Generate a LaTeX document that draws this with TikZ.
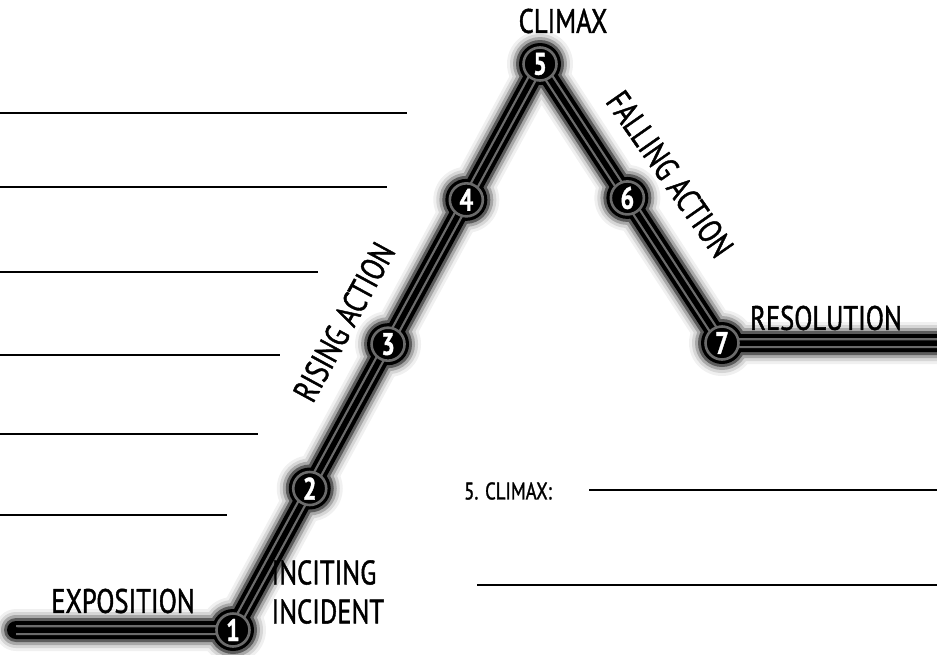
\documentclass[tikz,border=0pt]{standalone}
\usepackage{fontspec}
\setmainfont{PT Sans}[FakeBold=1.2,FakeStretch=0.78]
\usetikzlibrary{positioning,calc}

\begin{document}
\begin{tikzpicture}[x=1pt,y=-1pt,
  every node/.style={font=\fontsize{34}{39}\selectfont},
  track/.style={line cap=round,line join=round},
  stripe/.style={line join=round},
  stop/.style={circle,fill=black,draw=black!58,line width=2.6pt,minimum size=33pt,
               inner sep=0pt,text=white,font=\fontsize{31}{31}\selectfont\bfseries},
  tag/.style={font=\fontsize{34}{39}\selectfont},
  blank/.style={line width=1.3pt}
]
\useasboundingbox (0,0) rectangle (937,654);

% the track through the seven stops
\coordinate (p0) at (16,630);
\coordinate (p1) at (233,630);
\coordinate (p5) at (540,64);
\coordinate (p7) at (722,343);
\coordinate (p8) at (950,343);
\coordinate (p2) at ($(p1)!0.25!(p5)$);
\coordinate (p3) at ($(p1)!0.505!(p5)$);
\coordinate (p4) at ($(p1)!0.76!(p5)$);
\coordinate (p6) at ($(p5)!0.48!(p7)$);

% glow, from faint to dark
\foreach \e/\c in {12/6,9/16,6/34,3/64,0/100}{
  \draw[track,black!\c,line width=18pt+2*\e pt] (p0) -- (p1) -- (p5) -- (p7) -- (p8);
  \foreach \i in {1,...,7}
    \fill[black!\c] (p\i) circle (21+\e);
}
\draw[stripe,black!58,line width=10pt] (p0) -- (p1) -- (p5) -- (p7) -- (p8);
\draw[stripe,black,line width=5.5pt] (p0) -- (p1) -- (p5) -- (p7) -- (p8);
\fill[black] (p0) circle (2.8);

\foreach \i in {1,...,7}
  \node[stop] (n\i) at (p\i) {\i};

% labels
\node[tag] (climax) at (563,21) {CLIMAX};
\node[tag] (expo) at (123,601) {EXPOSITION};
\node[tag,align=left,anchor=west] (incite) at (268,592) {INCITING\\INCIDENT};
\node[tag] (reso) at (826,318) {RESOLUTION};
\node[tag,rotate=61.5] (rising) at (344,322) {RISING ACTION};
\node[tag,rotate=-55] (falling) at (670,174) {FALLING ACTION};
\node[font=\fontsize{24}{27}\selectfont] (cl) at (508,491) {5. CLIMAX:};

% writing lines
\foreach \y/\x in {113/407,187/387,272/318,355/280,434/258,515/227}
  \draw[blank] (0,\y) -- (\x,\y);
\draw[blank] (589,490) -- (937,490);
\draw[blank] (477,585) -- (937,585);
\end{tikzpicture}
\end{document}
